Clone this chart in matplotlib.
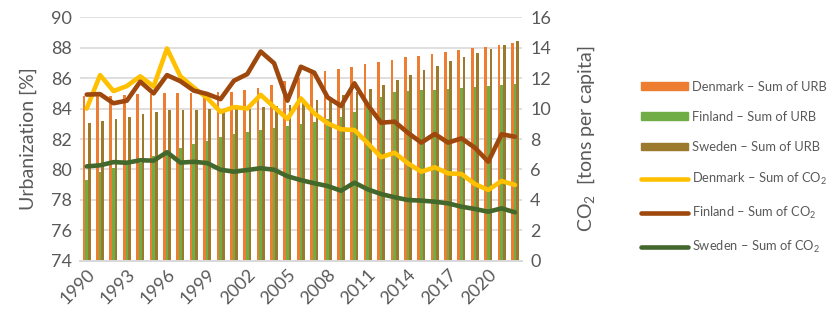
import numpy as np
import matplotlib
matplotlib.use("Agg")
import matplotlib.pyplot as plt
from matplotlib.patches import Patch
from matplotlib.lines import Line2D

plt.rcParams['font.family'] = ['Lato', 'DejaVu Sans']
plt.rcParams['mathtext.fontset'] = 'custom'
plt.rcParams['mathtext.rm'] = 'Lato'
plt.rcParams['mathtext.default'] = 'regular'

years = list(range(1990, 2023))

# urbanization, % of population
urb_denmark = [84.8, 84.8, 84.85, 84.9, 84.95, 84.95, 85.0, 85.0, 85.0, 85.05, 85.1,
               85.1, 85.2, 85.33, 85.55, 85.82, 86.02, 86.4, 86.5, 86.6, 86.75, 86.9,
               87.07, 87.22, 87.36, 87.46, 87.6, 87.7, 87.84, 87.96, 88.07, 88.2, 88.31]
urb_finland = [79.3, 79.8, 80.1, 80.3, 80.45, 80.9, 81.0, 81.4, 81.65, 81.9, 82.12,
               82.32, 82.46, 82.6, 82.75, 82.86, 82.98, 83.1, 83.3, 83.45, 83.75, 84.1,
               84.75, 85.1, 85.15, 85.2, 85.24, 85.3, 85.34, 85.4, 85.46, 85.53, 85.62]
urb_sweden = [83.04, 83.16, 83.31, 83.46, 83.62, 83.77, 83.88, 83.92, 83.93, 83.95, 83.95,
              83.95, 84.0, 84.12, 84.19, 84.24, 84.36, 84.56, 84.7, 84.9, 85.06, 85.26,
              85.57, 85.88, 86.2, 86.51, 86.8, 87.1, 87.39, 87.67, 87.92, 88.2, 88.44]

# CO2 emissions, tons per capita
co2_denmark = [10.0, 12.2, 11.15, 11.48, 12.12, 11.45, 13.95, 12.12, 11.38, 10.7, 9.78,
               10.1, 10.0, 10.9, 10.1, 9.32, 10.67, 9.69, 9.03, 8.64, 8.59, 7.72,
               6.8, 7.1, 6.4, 5.85, 6.14, 5.74, 5.7, 5.04, 4.65, 5.24, 4.98]
co2_finland = [10.92, 10.95, 10.35, 10.52, 11.77, 11.0, 12.2, 11.8, 11.18, 10.96, 10.62,
               11.83, 12.27, 13.75, 12.98, 10.52, 12.75, 12.36, 10.74, 10.17, 11.66, 10.23,
               9.07, 9.14, 8.41, 7.76, 8.33, 7.76, 8.04, 7.43, 6.51, 8.31, 8.15]
co2_sweden = [6.2, 6.27, 6.48, 6.44, 6.6, 6.58, 7.13, 6.45, 6.5, 6.42, 5.98,
              5.85, 5.96, 6.08, 5.98, 5.55, 5.3, 5.09, 4.91, 4.6, 5.13, 4.69,
              4.38, 4.17, 3.99, 3.95, 3.88, 3.77, 3.55, 3.4, 3.22, 3.44, 3.18]

c_dk_bar, c_fi_bar, c_se_bar = '#ED7D31', '#70AD47', '#9C7A2D'
c_dk_line, c_fi_line, c_se_line = '#FFC000', '#9E480E', '#43682B'
grey = '#595959'

fig = plt.figure(figsize=(8.32, 3.22), dpi=100)
ax = fig.add_axes([80 / 832, 1 - 260.7 / 322, 441.7 / 832, 243.4 / 322])
ax2 = ax.twinx()

x = np.arange(len(years))
w = 0.2
ax.bar(x - w, urb_denmark, w, color=c_dk_bar, zorder=2)
ax.bar(x, urb_finland, w, color=c_fi_bar, zorder=2)
ax.bar(x + w, urb_sweden, w, color=c_se_bar, zorder=2)

lw = 3.3
for vals, col in [(co2_denmark, c_dk_line), (co2_finland, c_fi_line), (co2_sweden, c_se_line)]:
    ax2.plot(x, vals, color=col, lw=lw, solid_capstyle='round', solid_joinstyle='round')

ax.set_xlim(-0.5, len(years) - 0.5)
ax.set_ylim(74, 90)
ax.set_yticks(np.arange(74, 91, 2))
ax2.set_ylim(0, 16)
ax2.set_yticks(np.arange(0, 17, 2))

ax.set_xticks(x[::3])
ax.set_xticklabels([str(y) for y in years[::3]], rotation=45, ha='right',
                   rotation_mode='anchor')

ax.yaxis.grid(True, color='#D9D9D9', lw=1.2, zorder=0)
ax.set_axisbelow(True)
for a in (ax, ax2):
    for side in ('top', 'left', 'right'):
        a.spines[side].set_visible(False)
    a.spines['bottom'].set_color('#D9D9D9')
    a.spines['bottom'].set_linewidth(1.2)
    a.tick_params(length=0, labelsize=13, colors=grey, pad=6)
ax.tick_params(axis='x', pad=4)

ax.set_ylabel('Urbanization [%]', fontsize=14, color=grey, labelpad=10)
ax2.set_ylabel('CO$_2$  [tons per capita]', fontsize=14, color=grey, labelpad=18)

handles = [
    Patch(color=c_dk_bar), Patch(color=c_fi_bar), Patch(color=c_se_bar),
    Line2D([], [], color=c_dk_line, lw=lw, solid_capstyle='round'),
    Line2D([], [], color=c_fi_line, lw=lw, solid_capstyle='round'),
    Line2D([], [], color=c_se_line, lw=lw, solid_capstyle='round'),
]
labels = ['Denmark – Sum of URB', 'Finland – Sum of URB', 'Sweden – Sum of URB',
          'Denmark – Sum of CO$_2$', 'Finland – Sum of CO$_2$', 'Sweden – Sum of CO$_2$']
leg = fig.legend(handles, labels, loc='center left', bbox_to_anchor=(636 / 832, 1 - 168 / 322),
                 frameon=False, fontsize=9.3, handlelength=3.65, handleheight=0.5,
                 handletextpad=0.3, labelspacing=1.4, borderaxespad=0)
for t in leg.get_texts():
    t.set_color(grey)

fig.savefig('out.png', dpi=100)
